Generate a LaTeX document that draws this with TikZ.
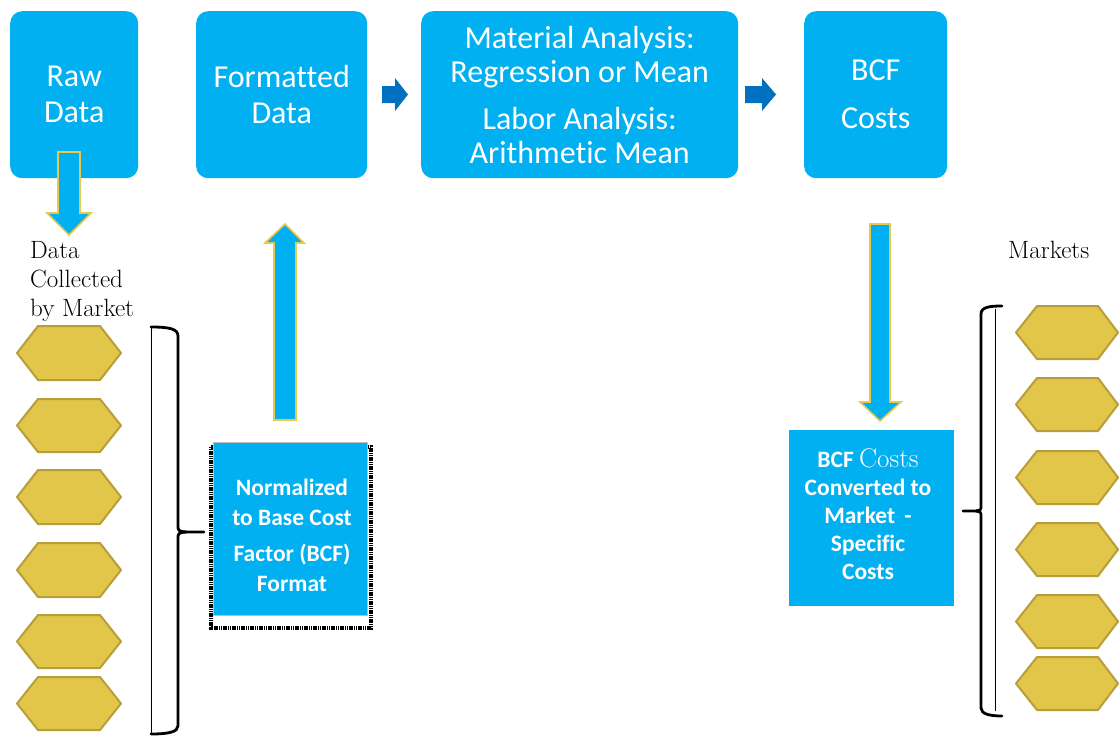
\documentclass[tikz,border=0pt]{standalone}
\usepackage{fontspec}
\newfontfamily\calibri[Ligatures=NoCommon]{Carlito}
\definecolor{cyanbox}{HTML}{00B0F0}
\definecolor{darkblue}{HTML}{0070C0}
\definecolor{hexfill}{HTML}{E2C64A}
\definecolor{hexline}{HTML}{B89E3A}
\definecolor{arrowline}{HTML}{E8C84E}
\begin{document}
\begin{tikzpicture}[x=1pt,y=-1pt,
  topbox/.style={fill=cyanbox, rounded corners=12pt, inner sep=0pt, anchor=north west,
    font=\calibri\fontsize{32}{36}\selectfont, text=white, align=center},
  flatbox/.style={fill=cyanbox, inner sep=0pt, anchor=north west},
  boxtext/.style={text=white, align=center, inner sep=0pt, font=\calibri\bfseries\fontsize{23.5}{30}\selectfont},
  serifnote/.style={inner sep=0pt, align=left, font=\fontsize{25}{29}\selectfont},
  blockarrow/.style={fill=cyanbox, draw=arrowline, line width=1.6pt, line join=miter},
  flowarrow/.style={fill=darkblue, draw=none},
  hexagon/.style={fill=hexfill, draw=hexline, line width=2pt, line join=round},
  bracethick/.style={line width=2.8pt, line cap=round, line join=round},
  bracethin/.style={line width=1pt}
]
\useasboundingbox (0,0) rectangle (1119,736);

% top row boxes
\node[topbox, minimum width=128pt, minimum height=167pt] (raw) at (10,11) {Raw\\Data};
\node[topbox, minimum width=171pt, minimum height=167pt] (fmt) at (196,11) {Formatted\\Data};
\node[topbox, minimum width=317pt, minimum height=167pt, font=\calibri\fontsize{32}{34}\selectfont] (ana) at (421,11)
  {Material Analysis:\\Regression or Mean\\[13pt]Labor Analysis:\\Arithmetic Mean};
\node[topbox, minimum width=143pt, minimum height=167pt] (bcf) at (804,11) {BCF\\[12pt]Costs};

% flow arrows between top boxes
\fill[flowarrow] (382,86) -- (395,86) -- (395,78) -- (408,94.5) -- (395,111) -- (395,103) -- (382,103) -- cycle;
\fill[flowarrow] (745,86) -- (762,86) -- (762,78) -- (776,94.5) -- (762,111) -- (762,103) -- (745,103) -- cycle;

% block arrows
\draw[blockarrow] (58,152) -- (80,152) -- (80,213) -- (91,213) -- (69,235) -- (47,213) -- (58,213) -- cycle;
\draw[blockarrow] (274,420) -- (296,420) -- (296,243) -- (304,243) -- (285,224) -- (265,243) -- (274,243) -- cycle;
\draw[blockarrow] (870,224) -- (890,224) -- (890,402) -- (901,402) -- (880,421) -- (860,402) -- (870,402) -- cycle;

% labels
\node[serifnote, anchor=north west] (collected) at (30,241) {Data\\Collected\\by Market};
\node[serifnote, anchor=base west] (markets) at (1008,258) {Markets};

% normalized box with jagged shadow
\draw[black, line width=3.4pt, dash pattern=on 1.2pt off 0.6pt] (211,447) rectangle (371,628);
\node[flatbox, draw=gray!50, line width=0.8pt, minimum width=154pt, minimum height=173pt] (norm) at (213,442) {};
\node[boxtext] (normtext) at (292,535) {Normalized\\to Base Cost\\[6pt]Factor (BCF)\\Format};

% converted box
\node[flatbox, minimum width=165pt, minimum height=176pt] (conv) at (789,430) {};
\node[boxtext, font=\calibri\bfseries\fontsize{23.5}{28}\selectfont] (convtext) at (868,514)
  {BCF {\rmfamily\mdseries\fontsize{27}{28}\selectfont Costs}\\Converted to\\Market \,-\\Specific\\Costs};

% left hexagons
\foreach \t/\b [count=\i] in {326/380,399/452,470/524,543/597,615/668,677/730}{
  \draw[hexagon] (17,{(\t+\b)/2}) -- (38,\t) -- (100,\t) -- (121,{(\t+\b)/2}) -- (100,\b) -- (38,\b) -- cycle;
}
% right hexagons
\foreach \t/\b [count=\i] in {306/359,378/431,451/504,523/576,595/648,657/710}{
  \draw[hexagon] (1016,{(\t+\b)/2}) -- (1037,\t) -- (1098,\t) -- (1118,{(\t+\b)/2}) -- (1098,\b) -- (1037,\b) -- cycle;
}

% left bracket
\draw[bracethin] (151,327) -- (151,734);
\draw[bracethick] (151,327) .. controls (170,327) and (178,329) .. (178,336) -- (178,525)
  .. controls (178,531) .. (186,532) -- (204,532);
\draw[bracethick] (186,532) .. controls (178,533) .. (178,539) -- (178,726)
  .. controls (178,732) and (168,734) .. (151,734);

% right bracket
\draw[bracethin] (995,309) -- (995,711);
\draw[bracethick] (1002,306) .. controls (990,306) and (981,307) .. (981,314) -- (981,505)
  .. controls (981,510) .. (976,511) -- (963,511);
\draw[bracethick] (976,511) .. controls (981,512) .. (981,517) -- (981,708)
  .. controls (981,714) and (990,716) .. (1002,716);
\end{tikzpicture}
\end{document}
